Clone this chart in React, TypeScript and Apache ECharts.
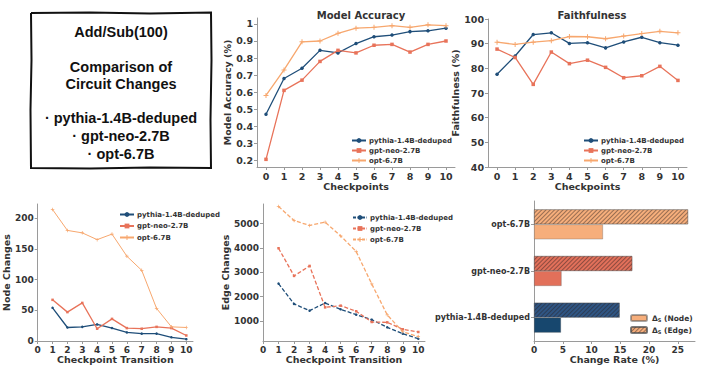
import React, { useEffect, useRef } from "react";
import * as echarts from "echarts";

const checkpoints = [0, 1, 2, 3, 4, 5, 6, 7, 8, 9, 10];
const accPythia = [0.47, 0.68, 0.74, 0.845, 0.83, 0.885, 0.925, 0.935, 0.955, 0.96, 0.975];
const accNeo = [0.205, 0.61, 0.67, 0.78, 0.845, 0.83, 0.875, 0.88, 0.835, 0.88, 0.9];
const accOpt = [0.58, 0.73, 0.895, 0.9, 0.945, 0.975, 0.98, 0.99, 0.98, 0.995, 0.99];

const faithPythia = [77.6, 85.0, 93.7, 94.4, 90.1, 90.4, 88.3, 90.7, 92.6, 90.4, 89.4];
const faithNeo = [87.8, 84.4, 73.5, 86.6, 81.9, 83.3, 80.4, 76.2, 77.0, 80.8, 75.1];
const faithOpt = [90.6, 89.7, 90.6, 91.2, 92.9, 92.8, 92.0, 93.1, 94.1, 95.0, 94.4];

const transitions = [1, 2, 3, 4, 5, 6, 7, 8, 9, 10];
const nodePythia = [54, 22, 23, 27, 21, 14, 12, 12, 6, 3];
const nodeNeo = [67, 47, 62, 20, 36, 21, 20, 23, 21, 9];
const nodeOpt = [214, 180, 176, 165, 174, 138, 115, 53, 23, 22];

const edgePythia = [2534, 1700, 1425, 1740, 1480, 1260, 1055, 740, 480, 274];
const edgeNeo = [3986, 2850, 3260, 1560, 1630, 1400, 960, 945, 660, 550];
const edgeOpt = [5700, 5120, 4920, 5055, 4490, 3850, 2520, 1250, 560, 360];

const barModels = ["pythia-1.4B-deduped", "gpt-neo-2.7B", "opt-6.7B"];
const nodeRate = [4.7, 4.8, 12.0];
const edgeRate = [14.9, 17.1, 26.8];

const accTicks = [0.2, 0.3, 0.4, 0.5, 0.6, 0.7, 0.8, 0.9, 1.0];
const faithTicks = [40, 50, 60, 70, 80, 90, 100];
const nodeTicks = [0, 50, 100, 150, 200];
const edgeTicks = [1000, 2000, 3000, 4000, 5000];
const transTicks = [0, 1, 2, 3, 4, 5, 6, 7, 8, 9, 10];
const rateTicks = [0, 5, 10, 15, 20, 25];

const modelNames = ["pythia-1.4B-deduped", "gpt-neo-2.7B", "opt-6.7B"];
const boxLines = ["Add/Sub(100)", "Comparison of", "Circuit Changes", "· pythia-1.4B-deduped", "· gpt-neo-2.7B", "· opt-6.7B"];

const C_PY = "#1f4e79";
const C_NEO = "#e8735a";
const C_OPT = "#f7a76e";
const BAR_COLORS = ["#17476e", "#e2705a", "#f6ae7b"];
const EDGE_COLORS = ["#2f5583", "#e2705a", "#f6ae7b"];

const FONT = "DejaVu Sans";
const TXT = "#333333";
const AXC = "#9a9a9a";
const PLUS = "path://M4,0H6V4H10V6H6V10H4V6H0V4H4Z";

function pairs(xs: number[], ys: number[]) {
  return xs.map((x, i) => [x, ys[i]]);
}

function valAxis(grid: number, min: number, max: number, ticks: number[], fs: number, name?: string, gap?: number) {
  return {
    type: "value",
    gridIndex: grid,
    min,
    max,
    name: name || "",
    nameLocation: "middle",
    nameGap: gap || 0,
    nameTextStyle: { fontFamily: FONT, fontWeight: "bold", fontSize: 9.5, color: TXT },
    axisLine: { show: true, onZero: false, lineStyle: { color: AXC, width: 1 } },
    axisTick: { show: true, length: 3, customValues: ticks, lineStyle: { color: AXC } },
    axisLabel: {
      customValues: ticks,
      formatter: (v: number) => String(v),
      fontFamily: FONT,
      fontWeight: "bold",
      fontSize: fs,
      color: TXT,
      margin: 4,
    },
    splitLine: { show: false },
  };
}

function lineSeries(name: string, data: number[][], color: string, symbol: string, size: number, xi: number, yi: number, dashed?: boolean, width?: number) {
  return {
    type: "line",
    name,
    data,
    xAxisIndex: xi,
    yAxisIndex: yi,
    symbol,
    symbolSize: size,
    showSymbol: true,
    itemStyle: { color },
    lineStyle: { color, width: width || 1.3, type: dashed ? [4, 2] : "solid" },
    z: 3,
  };
}

function legendAt(left: number, top: number, gap: number, dashed?: boolean) {
  return {
    left,
    top,
    orient: "vertical",
    itemGap: gap,
    itemWidth: 14,
    itemHeight: 6,
    selectedMode: false,
    textStyle: { fontFamily: FONT, fontWeight: "bold", fontSize: 7, color: TXT, padding: [0, 0, 0, -2] },
    data: modelNames.map((n) => ({ name: n, lineStyle: dashed ? { type: [3, 1.5] } : undefined })),
  };
}

export default function App() {
  const ref = useRef<HTMLDivElement>(null);
  useEffect(() => {
    if (!ref.current) return;
    const chart = echarts.init(ref.current, null, { renderer: "svg" });

    const hatch = {
      symbol: "rect",
      symbolSize: 1,
      dashArrayX: [1, 0],
      dashArrayY: [1, 2],
      rotation: -Math.PI / 4,
      color: "rgba(40,30,30,0.45)",
    };

    const wob = [
      [31, 13], [90, 12.5], [150, 13.5], [211, 12.5],
      [211.5, 60], [210.5, 120], [211, 168],
      [150, 167.5], [90, 168.5], [31, 168],
      [30.5, 110], [31.5, 60], [31, 13],
    ];

    const boxY = [32, 67, 84, 118, 136, 154];

    const option: any = {
      animation: false,
      backgroundColor: "#ffffff",
      title: [
        { text: "Model Accuracy", left: 356, top: 5, textAlign: "center", textStyle: { fontFamily: FONT, fontWeight: "bold", fontSize: 10, color: TXT } },
        { text: "Faithfulness", left: 587, top: 5, textAlign: "center", textStyle: { fontFamily: FONT, fontWeight: "bold", fontSize: 10, color: TXT } },
      ],
      graphic: [
        { type: "polyline", shape: { points: wob }, style: { stroke: "#111", lineWidth: 2, fill: "none" } },
        ...boxLines.map((t, i) => ({
          type: "text",
          x: 121,
          y: boxY[i],
          style: {
            text: t,
            fontFamily: "Liberation Sans",
            fontWeight: "bold",
            fontSize: 14.5,
            fill: "#111",
            textAlign: "center",
            textVerticalAlign: "middle",
          },
        })),
      ],
      legend: [
        legendAt(346, 132, 3),
        legendAt(578, 132, 3),
        legendAt(114, 206, 4.5),
        legendAt(347, 209, 4, true),
        {
          left: 625,
          top: 309,
          orient: "vertical",
          itemGap: 4,
          itemWidth: 16,
          itemHeight: 6,
          selectedMode: false,
          data: ["node", "edge"],
          formatter: (n: string) => (n === "node" ? "{a|Δ}{s|S}{a| (Node)}" : "{a|Δ}{s|S}{a| (Edge)}"),
          textStyle: {
            rich: {
              a: { fontFamily: FONT, fontWeight: "bold", fontSize: 7.5, color: TXT },
              s: { fontFamily: FONT, fontWeight: "bold", fontSize: 5, color: TXT, verticalAlign: "bottom", padding: [3, 0, 0, 0] },
            },
          },
        },
      ],
      grid: [
        { left: 257, top: 18, width: 198, height: 149 },
        { left: 488, top: 19, width: 199, height: 148 },
        { left: 32, top: 204, width: 161, height: 137 },
        { left: 263, top: 204, width: 162, height: 137 },
        { left: 534, top: 201, width: 161, height: 140 },
      ],
      xAxis: [
        valAxis(0, -0.5, 10.5, checkpoints, 9.5, "Checkpoints", 14),
        valAxis(1, -0.5, 10.5, checkpoints, 9.5, "Checkpoints", 14),
        valAxis(2, 0, 10.45, transTicks, 9, "Checkpoint Transition", 12),
        valAxis(3, 0, 10.43, transTicks, 9, "Checkpoint Transition", 12),
        valAxis(4, 0, 28, rateTicks, 9, "Change Rate (%)", 12),
      ],
      yAxis: [
        valAxis(0, 0.16, 1.035, accTicks, 9.5, "Model Accuracy (%)", 21),
        valAxis(1, 40, 100, faithTicks, 9.5, "Faithfulness (%)", 20),
        valAxis(2, 0, 223, nodeTicks, 9, "Node Changes", 21),
        valAxis(3, 180, 5800, edgeTicks, 9, "Edge Changes", 27),
        {
          type: "category",
          gridIndex: 4,
          data: barModels,
          axisLine: { show: true, lineStyle: { color: AXC } },
          axisTick: { show: true, length: 3, alignWithLabel: true, lineStyle: { color: AXC } },
          axisLabel: { fontFamily: FONT, fontWeight: "bold", fontSize: 8, color: TXT, margin: 4 },
        },
      ],
      series: [
        lineSeries(modelNames[0], pairs(checkpoints, accPythia), C_PY, "circle", 3.5, 0, 0),
        lineSeries(modelNames[1], pairs(checkpoints, accNeo), C_NEO, "rect", 3.5, 0, 0),
        lineSeries(modelNames[2], pairs(checkpoints, accOpt), C_OPT, PLUS, 5, 0, 0),
        lineSeries(modelNames[0], pairs(checkpoints, faithPythia), C_PY, "circle", 3.5, 1, 1),
        lineSeries(modelNames[1], pairs(checkpoints, faithNeo), C_NEO, "rect", 3.5, 1, 1),
        lineSeries(modelNames[2], pairs(checkpoints, faithOpt), C_OPT, PLUS, 5, 1, 1),
        lineSeries(modelNames[0], pairs(transitions, nodePythia), C_PY, "circle", 2.5, 2, 2),
        lineSeries(modelNames[1], pairs(transitions, nodeNeo), C_NEO, "rect", 2.5, 2, 2),
        lineSeries(modelNames[2], pairs(transitions, nodeOpt), C_OPT, PLUS, 3.5, 2, 2, false, 1),
        lineSeries(modelNames[0], pairs(transitions, edgePythia), C_PY, "circle", 2.5, 3, 3, true),
        lineSeries(modelNames[1], pairs(transitions, edgeNeo), C_NEO, "rect", 2.5, 3, 3, true),
        lineSeries(modelNames[2], pairs(transitions, edgeOpt), C_OPT, PLUS, 3.5, 3, 3, true),
        {
          type: "bar",
          name: "edge",
          xAxisIndex: 4,
          yAxisIndex: 4,
          barWidth: 15,
          barGap: "0%",
          data: edgeRate.map((v, i) => ({ value: v, itemStyle: { color: EDGE_COLORS[i], decal: hatch } })),
          itemStyle: { color: BAR_COLORS[2], borderColor: "rgba(80,80,80,0.5)", borderWidth: 0.6, decal: hatch },
        },
        {
          type: "bar",
          name: "node",
          xAxisIndex: 4,
          yAxisIndex: 4,
          barWidth: 15,
          barGap: "0%",
          data: nodeRate.map((v, i) => ({ value: v, itemStyle: { color: BAR_COLORS[i] } })),
          itemStyle: { color: BAR_COLORS[2], borderColor: "rgba(80,80,80,0.5)", borderWidth: 0.6 },
        },
      ],
    };
    chart.setOption(option);
    return () => chart.dispose();
  }, []);
  return <div ref={ref} style={{ position: "fixed", left: 0, top: 0, width: 706, height: 376 }} />;
}
